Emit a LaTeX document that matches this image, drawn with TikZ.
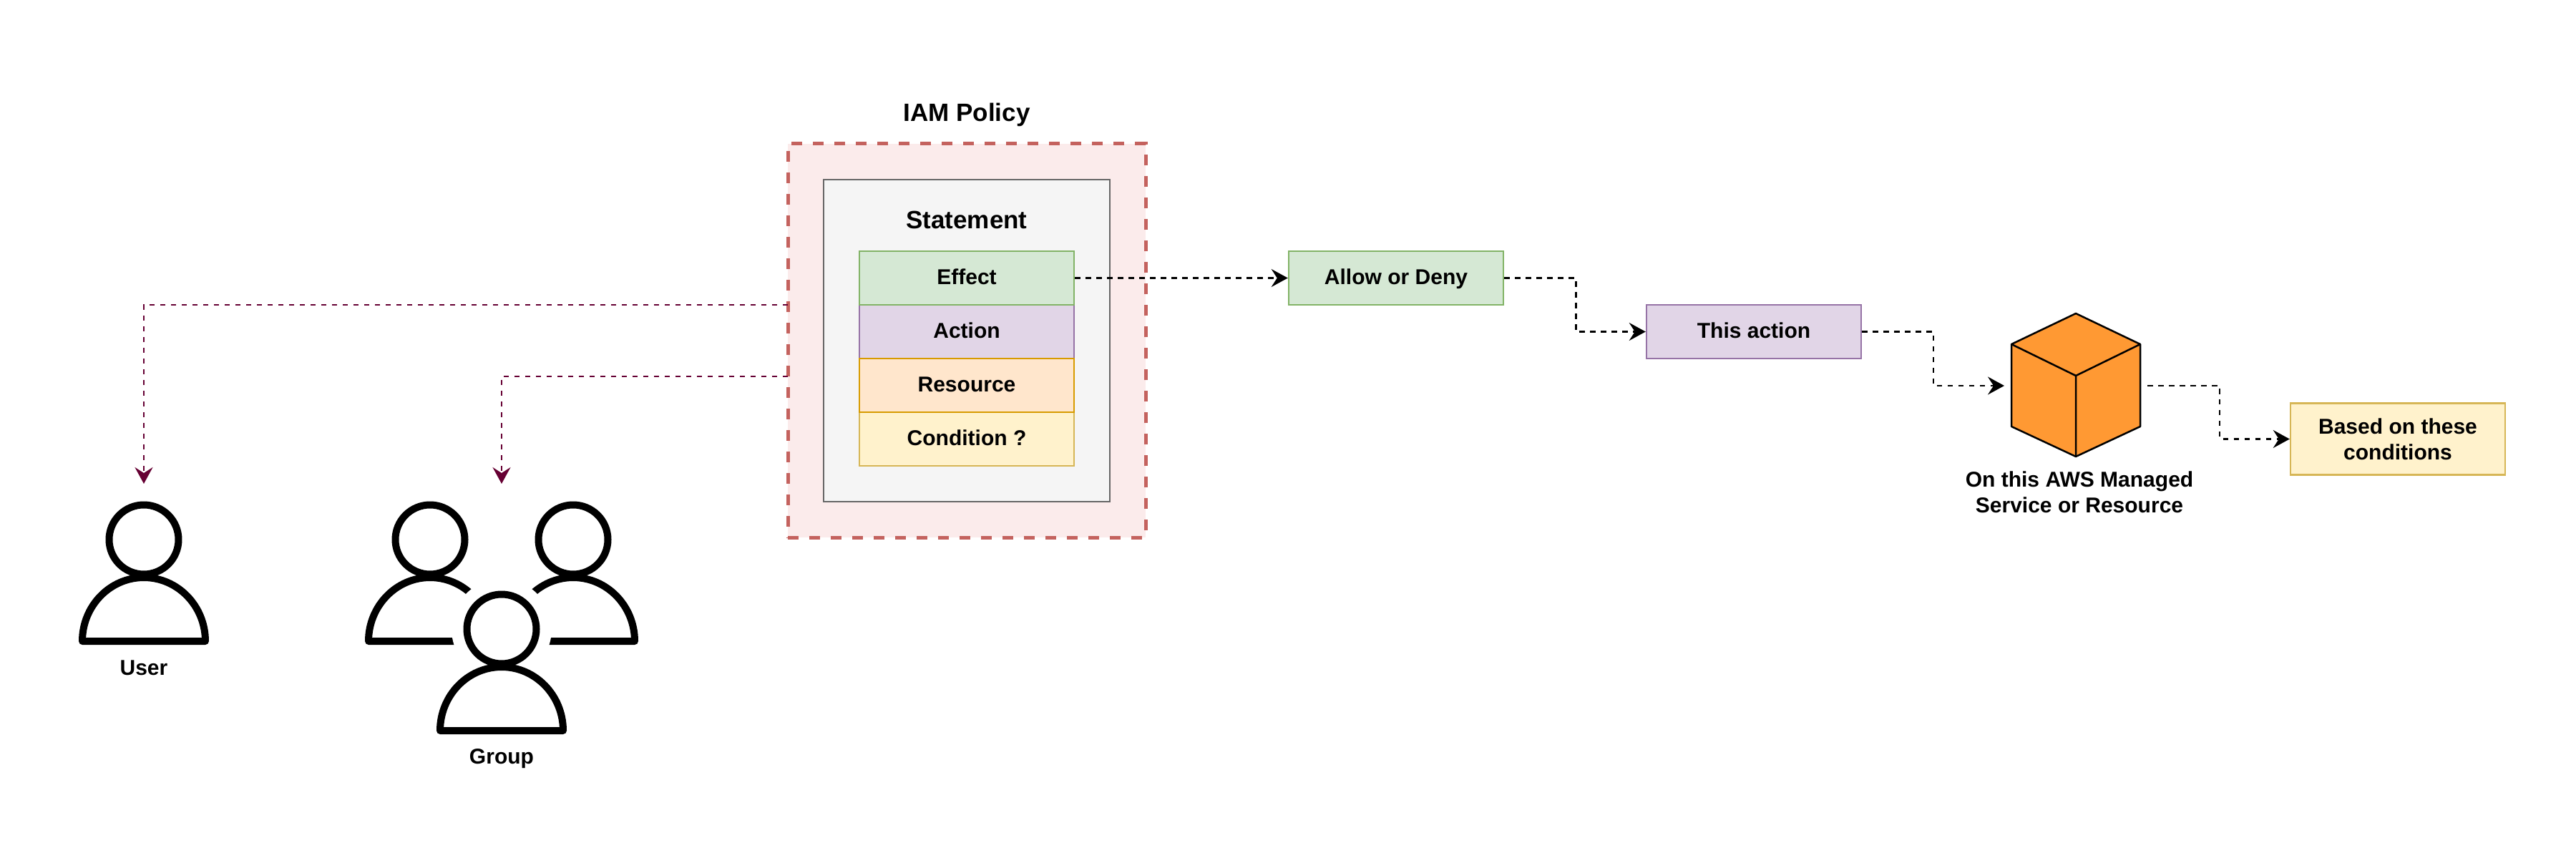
\documentclass[tikz,border=0pt]{standalone}
\usepackage{fontspec}
\setmainfont{Liberation Sans}
\usetikzlibrary{arrows.meta}
\definecolor{greenfill}{HTML}{D5E8D4}
\definecolor{greenline}{HTML}{82B366}
\definecolor{purplefill}{HTML}{E1D5E7}
\definecolor{purpleline}{HTML}{9673A6}
\definecolor{orangefill}{HTML}{FFE6CC}
\definecolor{orangeline}{HTML}{D79B00}
\definecolor{yellowfill}{HTML}{FFF2CC}
\definecolor{yellowline}{HTML}{D6B656}
\definecolor{policyfill}{HTML}{FBEBEB}
\definecolor{policyline}{HTML}{C4625E}
\definecolor{stmtfill}{HTML}{F5F5F5}
\definecolor{stmtline}{HTML}{666666}
\definecolor{cubefill}{HTML}{FF9933}
\definecolor{linkred}{HTML}{660033}
\tikzset{
    label/.style={font=\fontsize{8.54}{10.2}\selectfont\bfseries, align=center, inner sep=0pt,
        text height=0.255cm, text depth=0.07cm},
    twolines/.style={text height=, text depth=},
    title/.style={font=\fontsize{9.96}{12}\selectfont\bfseries, align=center, inner sep=0pt,
        text height=0.3cm, text depth=0.085cm},
    row/.style={label, draw=#1line, fill=#1fill, line width=0.025cm, minimum width=3cm, minimum height=0.75cm},
    flow/.style={draw=black, line width=0.025cm, dash pattern=on 0.075cm off 0.075cm,
        -{Stealth[length=0.23cm,width=0.25cm,inset=0.08cm]}},
    redflow/.style={flow, draw=linkred, color=linkred},
    person/.style={draw=black, fill=white, line width=0.1cm, line join=round},
}
\begin{document}
\begin{tikzpicture}[y=-1cm]
    \useasboundingbox (0,0) rectangle (36,11.78);
    % Policy boxes
    \node[draw=policyline, fill=policyfill, line width=0.05cm, dash pattern=on 0.15cm off 0.15cm,
        minimum width=5cm, minimum height=5.5cm] (policy) at (13.51,4.76) {};
    \node[draw=stmtline, fill=stmtfill, line width=0.025cm,
        minimum width=4cm, minimum height=4.5cm] (statement) at (13.51,4.76) {};
    \node[title] (policytitle) at (13.51,1.585) {IAM Policy};
    \node[title] (statementtitle) at (13.51,3.09) {Statement};
    % Rows
    \node[row=purple] (action) at (13.51,4.635) {Action};
    \node[row=yellow] (condition) at (13.51,6.135) {Condition ?};
    \node[row=green] (effect) at (13.51,3.885) {Effect};
    \node[row=orange] (resource) at (13.51,5.385) {Resource};
    % Right side boxes
    \node[row=green] (allow) at (19.51,3.885) {Allow or Deny};
    \node[row=purple] (thisaction) at (24.51,4.635) {This action};
    \node[row=yellow, twolines, minimum height=1cm] (conditions) at (33.51,6.135) {Based on these\\conditions};
    % Cube
    \draw[fill=cubefill, line width=0.025cm, line join=round] (28.11,4.81) -- (29.01,4.38) -- (29.91,4.81) -- (29.91,5.96)
        -- (29.01,6.38) -- (28.11,5.96) -- cycle;
    \draw[line width=0.025cm, line join=round] (28.11,4.81) -- (29.01,5.25) -- (29.91,4.81) (29.01,5.25) -- (29.01,6.38);
    \node[label, twolines] (cubelabel) at (29.06,6.88) {On this AWS Managed\\Service or Resource};
    \coordinate (cubein) at (28.01,5.39);
    \coordinate (cubeout) at (30.01,5.39);
    % People
    \foreach \px/\py in {2.01/7.54, 6.01/7.54, 8.01/7.54} {
        \draw[person] (\px-0.86,\py+1.42) .. controls (\px-0.86,\py+0.93) and (\px-0.475,\py+0.53) .. (\px,\py+0.53)
            .. controls (\px+0.475,\py+0.53) and (\px+0.86,\py+0.93) .. (\px+0.86,\py+1.42) -- cycle;
        \draw[person] (\px,\py) circle (0.485);
    }
    \fill[white] (7.01,8.79) circle (0.7);
    \draw[person] (6.15,10.21) .. controls (6.15,9.72) and (6.535,9.32) .. (7.01,9.32)
        .. controls (7.485,9.32) and (7.87,9.72) .. (7.87,10.21) -- cycle;
    \draw[person] (7.01,8.79) circle (0.485);
    \node[label] (userlabel) at (2.01,9.34) {User};
    \node[label] (grouplabel) at (7.01,10.585) {Group};
    \coordinate (usertip) at (2.01,6.76);
    \coordinate (grouptip) at (7.01,6.76);
    \coordinate (policyuser) at (11.01,4.26);
    \coordinate (policygroup) at (11.01,5.26);
    % Connectors
    \draw[redflow] (policyuser) -| (usertip);
    \draw[redflow] (policygroup) -| (grouptip);
    \draw[flow] (effect.east) -- (allow.west);
    \draw[flow] (allow.east) -- ++(1,0) |- (thisaction.west);
    \draw[flow] (thisaction.east) -- ++(0.995,0) |- (cubein);
    \draw[flow] (cubeout) -- ++(1.01,0) |- (conditions.west);
\end{tikzpicture}
\end{document}
